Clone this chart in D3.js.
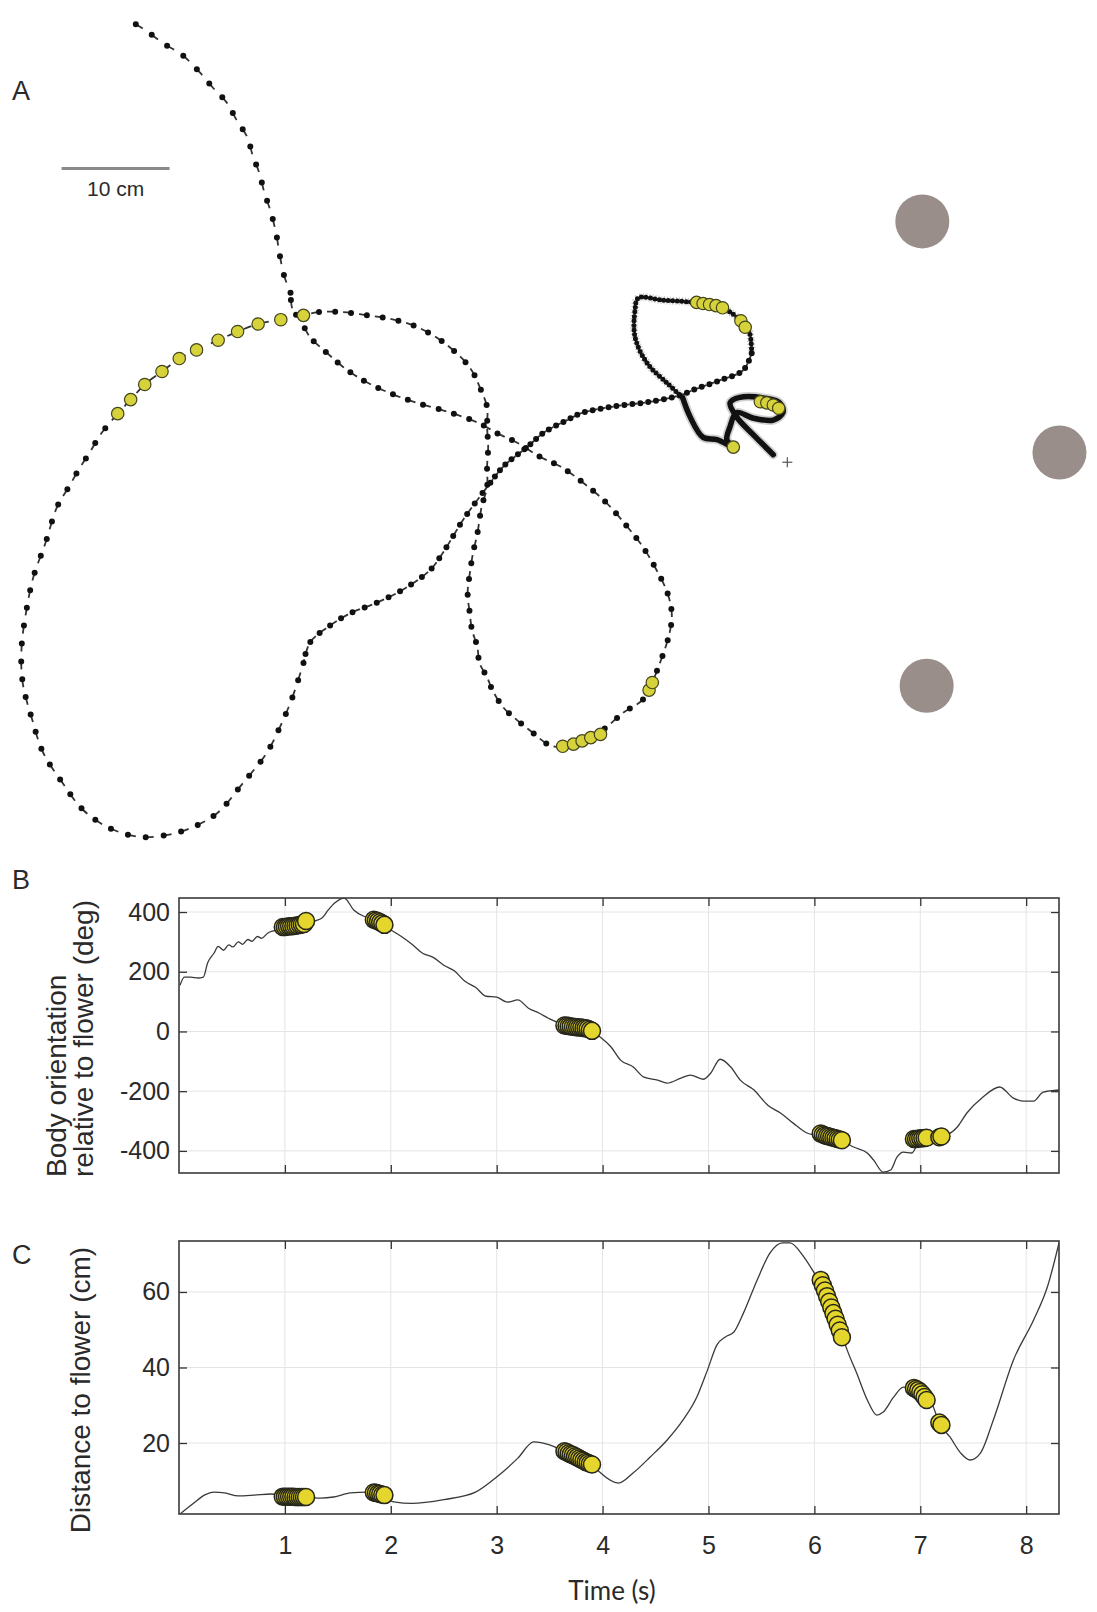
<!DOCTYPE html>
<html lang="en">
<head>
<meta charset="UTF-8">
<title>Flight trajectory, body orientation and distance to flower</title>
<script src="https://d3js.org/d3.v7.min.js"></script>
<style>
  body { margin: 0; background: #fff; }
  text { font-family: "Liberation Sans", Arial, sans-serif; fill: #2a2a2a; }
</style>
</head>
<body>
<svg id="fig"></svg>
<script>
// ---------- Panel A: track (cm, arena frame, y downwards), in time order ----------
const trackStart = [[71.6,42.1],[69.9,40.4],[68.2,38.6],[67.6,37.3],[68.5,36.8],[71.0,36.9],[72.2,37.3],[72.5,38.2],
  [71.6,38.9],[69.7,38.7],[68.2,38.2],[67.6,39.5],[67.3,40.7],[67.9,41.4],[66.4,40.7],[65.1,40.5],[63.9,38.6],[63.2,36.8]];
const trackLoop = [[63.2,36.8],[61.8,35.5],[59.9,33.6],[58.8,31.2],[58.8,28.7],[59.1,27.6],[61.4,27.8],[64.2,28.0],
  [66.9,28.5],[68.8,29.9],[69.4,30.8],[69.6,32.7]];
const trackExit = [[69.6,32.7],[68.8,34.3],[66.7,35.2],[64.2,36.1],[63.0,36.6],[60.2,37.2],[57.1,37.6],[54.0,38.2],
  [52.5,38.9],[50.3,40.1],[48.8,41.4],[46.6,43.2],[45.4,44.7]];
const trackDescent = [[45.4,44.7],[44.2,46.3],[42.9,48.1],[41.0,51.2],[39.8,52.8],[37.3,54.6],[34.9,55.8],[32.4,56.8],
  [30.3,58.1],[28.7,59.5],[28.1,61.4]];
const trackBigLoop = [[28.1,61.4],[27.1,64.5],[26.2,66.7],[24.7,69.7],[22.5,72.5],[20.1,75.3],[17.6,76.7],[15.5,77.3],
  [13.0,77.5],[10.2,76.7],[7.7,75.0],[5.8,72.5],[4.0,69.7],[3.0,66.7],[2.1,63.2],[2.0,59.9],[2.5,56.2],[3.1,53.4],
  [4.2,50.3],[5.3,46.9],[6.3,45.2],[7.4,43.3],[8.3,41.9],[9.4,40.1],[10.9,38.3]];
const trackArc = [[10.9,38.3],[12.1,37.0],[13.4,35.6],[15.0,34.4],[16.6,33.2],[18.2,32.4],[20.2,31.5],[22.0,30.7],
  [23.9,30.0],[26.0,29.6],[28.1,29.2]];
const trackLowerLoop = [[28.1,29.2],[29.4,28.9],[31.8,28.9],[34.0,29.2],[35.5,29.4],[37.3,29.8],[38.9,30.4],[40.5,31.3],
  [41.7,32.2],[42.9,33.3],[43.8,34.5],[44.4,35.8],[45.1,37.7],[45.1,39.5],[45.2,41.4],[45.1,43.2],[45.1,45.1],[44.6,46.9],
  [44.2,49.4],[43.8,51.2],[43.5,53.1],[43.3,54.9],[43.5,56.8],[43.7,58.3],[44.2,59.9],[44.4,61.4],[45.1,62.7],[45.6,63.9],
  [46.6,65.5],[47.9,66.7],[49.4,67.9],[50.9,69.0],[52.5,69.2],[54.2,68.5],[55.8,67.6],[57.7,66.0],[59.5,64.8],[60.2,63.6],
  [61.1,61.4],[62.0,58.6],[62.2,56.8],[61.8,54.9],[60.8,52.8],[59.5,50.6],[58.1,48.8],[56.2,46.6],[54.0,44.7],[51.9,43.2],
  [50.0,42.3],[47.9,41.0],[46.0,40.1],[44.4,39.2],[41.7,38.2],[38.6,37.3],[36.1,36.4],[33.6,35.2],[31.8,34.0],[30.3,32.7],
  [28.7,31.2],[27.8,29.6],[27.1,28.7],[26.9,27.1]];
const trackFinal = [[26.9,27.1],[26.3,25.5],[25.9,23.6],[25.6,21.8],[25.1,19.7],[24.5,17.9],[24.0,16.0],[23.4,14.4],
  [22.9,12.7],[21.9,11.1],[21.0,9.5],[19.7,8.1],[18.5,6.7],[16.9,5.1],[15.1,4.0],[13.6,2.9],[11.7,1.7]];

// highlighted frames in A
const highlightA = [[70.4,37.2],[71.0,37.3],[71.6,37.5],[72.1,37.8],[67.9,41.4],
  [64.5,28.0],[65.1,28.1],[65.7,28.2],[66.3,28.3],[66.9,28.5],[68.6,29.7],[69.0,30.3],
  [10.9,38.3],[12.1,37.0],[13.4,35.6],[15.0,34.4],[16.6,33.2],[18.2,32.4],[20.2,31.5],[22.0,30.7],[23.9,30.0],[26.0,29.6],[28.1,29.2],
  [52.1,69.1],[53.1,68.9],[53.9,68.6],[54.7,68.3],[55.6,68.0],[60.1,63.9],[60.4,63.2]];

const flowers = [[85.4,20.5],[98.1,41.9],[85.8,63.5]];
const flowerRadius = 2.5;     // cm
const startMark = [72.9,42.8];
const scaleBar = {x: 5.7, y: 15.6, len: 10, label: "10 cm"};

// ---------- Panel B: body orientation (deg) ----------
const oriTime = [0.01,0.05,0.11,0.18,0.23,0.27,0.33,0.37,0.42,0.47,0.51,0.56,0.60,0.65,0.69,0.74,0.78,0.84,0.9,1.0,1.1,1.2,
  1.3,1.35,1.41,1.47,1.56,1.65,1.78,1.93,2.0,2.1,2.2,2.3,2.4,2.5,2.6,2.7,2.8,2.9,3.0,3.1,3.2,3.3,3.4,3.5,3.6,3.7,3.8,3.9,
  3.98,4.08,4.17,4.29,4.39,4.52,4.61,4.74,4.83,4.95,5.02,5.11,5.21,5.3,5.43,5.56,5.68,5.8,5.93,6.05,6.15,6.25,6.37,6.5,
  6.56,6.65,6.72,6.78,6.84,6.92,7.0,7.1,7.2,7.35,7.44,7.59,7.75,7.88,7.97,8.07,8.16,8.31];
const oriValue = [155,182,182,179,182,229,262,285,272,290,283,300,292,308,302,318,312,330,338,350,355,362,
  372,380,407,430,447,407,380,356,340,318,292,262,248,222,203,168,148,118,115,98,106,78,62,42,27,15,10,0,
  -19,-52,-96,-119,-153,-163,-173,-156,-146,-160,-140,-93,-119,-163,-196,-247,-273,-307,-340,-350,-358,-365,-387,-407,
  -431,-471,-464,-421,-404,-407,-362,-357,-353,-320,-273,-220,-186,-223,-233,-233,-203,-196];

// ---------- Panel C: distance to flower (cm) ----------
const distTime = [0.01,0.14,0.24,0.33,0.43,0.56,0.71,0.87,1.0,1.1,1.2,1.34,1.46,1.62,1.78,1.9,2.03,2.2,2.5,2.8,3.0,3.2,
  3.35,3.5,3.65,3.8,3.9,3.98,4.15,4.29,4.45,4.61,4.76,4.89,4.99,5.08,5.16,5.24,5.33,5.46,5.58,5.7,5.77,5.9,6.01,6.1,6.2,
  6.27,6.31,6.4,6.5,6.59,6.65,6.75,6.84,6.93,7.0,7.1,7.19,7.28,7.38,7.47,7.57,7.69,7.88,8.07,8.2,8.31];
const distValue = [1.2,4.1,6.2,7.0,6.8,6.0,6.2,6.5,5.8,5.8,5.7,5.4,5.7,6.8,7.0,6.4,4.4,4.0,5.0,7.0,11.0,16.0,
  20.3,19.5,17.6,16.0,14.5,12.1,9.4,12.1,16.3,20.8,26.1,32.2,39.3,46.0,48.1,49.4,54.4,63.2,70.3,73.0,73.0,69.3,64.5,60.2,52.9,
  47.8,44.6,38.5,31.4,27.4,28.2,32.2,34.8,34.8,33.6,31.0,24.8,21.6,17.4,15.5,17.4,26.1,42.0,52.6,61.3,73.0];

// highlighted frames in B and C (every 0.02 s inside each episode)
const markTime = [0.98,1.0,1.02,1.04,1.06,1.08,1.1,1.12,1.14,1.16,1.18,1.2,
  1.84,1.86,1.88,1.9,1.92,1.94,
  3.64,3.66,3.68,3.7,3.72,3.74,3.76,3.78,3.8,3.82,3.84,3.86,3.88,3.9,
  6.06,6.08,6.1,6.12,6.14,6.16,6.18,6.2,6.22,6.24,6.26,
  6.94,6.96,6.98,7.0,7.02,7.04,7.06, 7.18,7.2];
const markOri = [350,350,351,352,352,353,354,355,357,358,360,370,
  374,372,369,366,362,357,
  20,19,18,17,16,15,14,13,13,12,11,9,6,2,
  -342,-345,-348,-350,-352,-354,-356,-358,-360,-362,-364,
  -360,-360,-359,-358,-358,-357,-356, -354,-352];
const markDist = [5.8,5.8,5.8,5.8,5.8,5.8,5.7,5.7,5.7,5.7,5.7,5.7,
  6.9,6.8,6.6,6.5,6.3,6.2,
  17.8,17.6,17.3,17.0,16.8,16.5,16.2,15.9,15.6,15.3,15.0,14.8,14.5,14.3,
  63.2,61.8,60.4,58.9,57.4,55.9,54.4,52.9,51.3,49.8,48.0,
  34.6,34.3,34.0,33.5,32.9,32.2,31.4, 25.4,24.8];

const timeTicks = [1,2,3,4,5,6,7,8];
const oriTicks = [-400,-200,0,200,400];
const distTicks = [20,40,60];

// ---------- drawing ----------
const W = 1097, H = 1612;
const svg = d3.select("#fig").attr("width", W).attr("height", H);

// Panel A
const ax = d3.scaleLinear().domain([0, 100]).range([0, 1080]);
const ay = d3.scaleLinear().domain([0, 100]).range([0, 1080]);
const trackLine = d3.line().x(d => ax(d[0])).y(d => ay(d[1])).curve(d3.curveCatmullRom.alpha(0.5));
const gA = svg.append("g");

gA.append("text").attr("x", 12).attr("y", 100).attr("font-size", 27).text("A");

gA.append("line")
  .attr("x1", ax(scaleBar.x)).attr("x2", ax(scaleBar.x + scaleBar.len))
  .attr("y1", ay(scaleBar.y)).attr("y2", ay(scaleBar.y))
  .attr("stroke", "#8a8a8a").attr("stroke-width", 3);
gA.append("text")
  .attr("x", ax(scaleBar.x + scaleBar.len / 2)).attr("y", ay(scaleBar.y) + 28)
  .attr("text-anchor", "middle").attr("font-size", 21).text(scaleBar.label);

gA.selectAll("circle.flower").data(flowers).join("circle")
  .attr("class", "flower")
  .attr("cx", d => ax(d[0])).attr("cy", d => ay(d[1]))
  .attr("r", ax(flowerRadius) - ax(0))
  .attr("fill", "#998e8a");

const segments = [
  {pts: trackStart, solid: true},
  {pts: trackLoop, gap: 4.5},
  {pts: trackExit, gap: 8},
  {pts: trackDescent, gap: 13},
  {pts: trackBigLoop, gap: 18},
  {pts: trackArc, gap: 18, noDots: true},
  {pts: trackLowerLoop, gap: 16},
  {pts: trackFinal, gap: 19}
];

segments.forEach(seg => {
  const d = trackLine(seg.pts);
  if (seg.solid) {
    gA.append("path").attr("d", d).attr("fill", "none")
      .attr("stroke", "#666").attr("stroke-width", 9).attr("stroke-opacity", 0.3)
      .attr("stroke-linejoin", "round").attr("stroke-linecap", "round");
    gA.append("path").attr("d", d).attr("fill", "none")
      .attr("stroke", "#111").attr("stroke-width", 5.5)
      .attr("stroke-linejoin", "round").attr("stroke-linecap", "round");
    return;
  }
  if (seg.gap < 6) {
    gA.append("path").attr("d", d).attr("fill", "none")
      .attr("stroke", "#555").attr("stroke-width", 8).attr("stroke-opacity", 0.35)
      .attr("stroke-dasharray", "1 2");
  } else {
    const tl = Math.min(8, seg.gap - 3);
    gA.append("path").attr("d", d).attr("fill", "none")
      .attr("stroke", "#333").attr("stroke-width", 1.8)
      .attr("stroke-dasharray", `${tl} ${seg.gap - tl}`)
      .attr("stroke-dashoffset", tl);
  }
  if (!seg.noDots) {
    gA.append("path").attr("d", d).attr("fill", "none")
      .attr("stroke", "#111").attr("stroke-width", seg.gap < 6 ? 5 : 6)
      .attr("stroke-linecap", "round")
      .attr("stroke-dasharray", `0 ${seg.gap}`);
  }
});

gA.selectAll("circle.hl").data(highlightA).join("circle")
  .attr("class", "hl")
  .attr("cx", d => ax(d[0])).attr("cy", d => ay(d[1]))
  .attr("r", 6.2)
  .attr("fill", "#d6d23c").attr("stroke", "#45451c").attr("stroke-width", 1.2);

const plus = gA.append("g").attr("transform", `translate(${ax(startMark[0])},${ay(startMark[1])})`);
plus.append("line").attr("x1", -5).attr("x2", 5).attr("stroke", "#555").attr("stroke-width", 1.2);
plus.append("line").attr("y1", -5).attr("y2", 5).attr("stroke", "#555").attr("stroke-width", 1.2);

// Panels B and C
const xLeft = 179, xRight = 1059;
const tx = d3.scaleLinear().domain([0, 8.31]).range([xLeft, xRight]);
const plainNum = d => String(d);   // hyphen-minus like the original

function timePanel(opt) {
  const g = svg.append("g");
  const y = d3.scaleLinear().domain(opt.domain).range([opt.bottom, opt.top]);
  const clipId = "clip" + opt.id;
  svg.append("clipPath").attr("id", clipId).append("rect")
    .attr("x", xLeft).attr("y", opt.top).attr("width", xRight - xLeft).attr("height", opt.bottom - opt.top);

  // grid
  g.selectAll("line.gx").data(timeTicks).join("line")
    .attr("x1", d => tx(d)).attr("x2", d => tx(d)).attr("y1", opt.top).attr("y2", opt.bottom)
    .attr("stroke", "#e4e4e4").attr("stroke-width", 1);
  g.selectAll("line.gy").data(opt.ticks).join("line")
    .attr("y1", d => y(d)).attr("y2", d => y(d)).attr("x1", xLeft).attr("x2", xRight)
    .attr("stroke", "#e4e4e4").attr("stroke-width", 1);

  // axes, ticks pointing inwards
  const styleAxis = sel => {
    sel.select(".domain").remove();
    sel.selectAll(".tick line").attr("stroke", "#333").attr("stroke-width", 1.3);
    sel.selectAll(".tick text").attr("font-size", 25).attr("fill", "#333")
      .attr("font-family", "'Liberation Sans', Arial, sans-serif");
  };
  g.append("g").attr("transform", `translate(${xLeft},0)`)
    .call(d3.axisLeft(y).tickValues(opt.ticks).tickFormat(plainNum)
      .tickSizeInner(-8).tickSizeOuter(0).tickPadding(9))
    .call(styleAxis);
  g.append("g").attr("transform", `translate(${xRight},0)`)
    .call(d3.axisRight(y).tickValues(opt.ticks).tickSizeInner(-8).tickSizeOuter(0).tickFormat(""))
    .call(styleAxis);
  g.append("g").attr("transform", `translate(0,${opt.top})`)
    .call(d3.axisTop(tx).tickValues(timeTicks).tickSizeInner(-8).tickSizeOuter(0).tickFormat(""))
    .call(styleAxis);
  const xb = d3.axisBottom(tx).tickValues(timeTicks).tickSizeInner(-8).tickSizeOuter(0).tickPadding(22)
    .tickFormat(opt.xLabels ? plainNum : "");
  g.append("g").attr("transform", `translate(0,${opt.bottom})`).call(xb).call(styleAxis);

  // trace
  const data = opt.time.map((t, i) => [t, opt.value[i]]);
  g.append("path").datum(data)
    .attr("clip-path", `url(#${clipId})`)
    .attr("d", d3.line().x(d => tx(d[0])).y(d => y(d[1])).curve(d3.curveMonotoneX))
    .attr("fill", "none").attr("stroke", "#3a3a3a").attr("stroke-width", 1.3);

  // highlighted frames
  g.selectAll("circle.mk").data(markTime.map((t, i) => [t, opt.marks[i]])).join("circle")
    .attr("class", "mk")
    .attr("cx", d => tx(d[0])).attr("cy", d => y(d[1]))
    .attr("r", 8.5)
    .attr("fill", "#e4d62c").attr("stroke", "#26261a").attr("stroke-width", 1.5);

  // box
  g.append("rect").attr("x", xLeft).attr("y", opt.top)
    .attr("width", xRight - xLeft).attr("height", opt.bottom - opt.top)
    .attr("fill", "none").attr("stroke", "#3a3a3a").attr("stroke-width", 1.6);
  return g;
}

timePanel({id: "B", top: 898, bottom: 1173, domain: [-474, 447], ticks: oriTicks,
  time: oriTime, value: oriValue, marks: markOri, xLabels: false});
timePanel({id: "C", top: 1241, bottom: 1514, domain: [1.2, 73.5], ticks: distTicks,
  time: distTime, value: distValue, marks: markDist, xLabels: true});

// labels
svg.append("text").attr("x", 12).attr("y", 889).attr("font-size", 27).text("B");
svg.append("text").attr("x", 12).attr("y", 1264).attr("font-size", 27).text("C");

svg.append("text").attr("transform", "translate(66,1177) rotate(-90)")
  .attr("font-size", 28).text("Body orientation");
svg.append("text").attr("transform", "translate(93,1177) rotate(-90)")
  .attr("font-size", 28).text("relative to flower (deg)");
svg.append("text").attr("transform", "translate(90,1390) rotate(-90)")
  .attr("text-anchor", "middle").attr("font-size", 28).text("Distance to flower (cm)");
svg.append("text").attr("x", 612).attr("y", 1600).attr("text-anchor", "middle")
  .attr("font-size", 26).style("font-family", "Lato, 'Open Sans', sans-serif").text("Time (s)");
</script>
</body>
</html>
